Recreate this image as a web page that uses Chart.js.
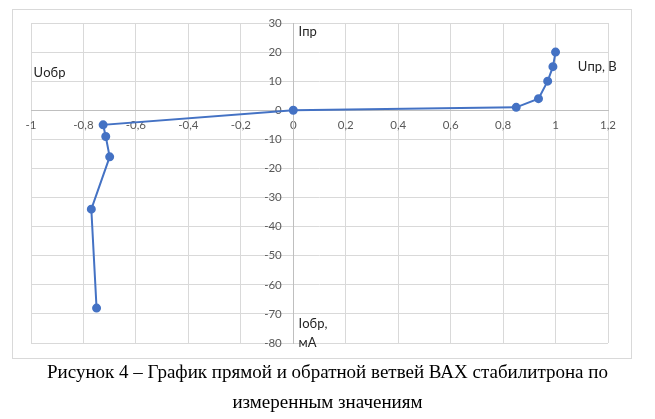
<!DOCTYPE html>
<html><head><meta charset="utf-8">
<script src="https://cdn.jsdelivr.net/npm/chart.js@4/dist/chart.umd.min.js"></script>
<style>
html,body{margin:0;padding:0;background:#fff;}
#wrap{position:relative;width:655px;height:419px;}
#frame{position:absolute;left:12px;top:9px;width:620px;height:350px;border:1px solid #d9d9d9;box-sizing:border-box;}
canvas{position:absolute;left:0;top:0;}
.cap{position:absolute;left:0;width:655px;text-align:center;font-family:"Liberation Serif","DejaVu Serif",serif;font-size:19px;line-height:22px;color:#000;}
</style></head>
<body>
<div id="wrap">
<div id="frame"></div>
<canvas id="c" width="655" height="419"></canvas>
<div class="cap" style="top:361px">Рисунок 4 – График прямой и обратной ветвей ВАХ стабилитрона по</div>
<div class="cap" style="top:391px">измеренным значениям</div>
</div>
<script>
const voltage = [-0.75, -0.77, -0.70, -0.715, -0.725, 0, 0.85, 0.935, 0.97, 0.99, 1.0];
const current = [-68, -34, -16, -9, -5, 0, 1, 4, 10, 15, 20];
const xTicks = [-1, -0.8, -0.6, -0.4, -0.2, 0, 0.2, 0.4, 0.6, 0.8, 1, 1.2];
const yTicks = [30, 20, 10, 0, -10, -20, -30, -40, -50, -60, -70, -80];
const axisLabels = [
  {text: "Iпр", x: 0.02, y: 27},
  {text: "Uобр", x: -0.99, y: 13},
  {text: "Uпр, В", x: 1.085, y: 15},
  {text: "Iобр,", x: 0.02, y: -73.5},
  {text: "мА", x: 0.02, y: -80}
];

const fmt = v => String(Math.round(v*10)/10).replace('.', ',');

const labelPlugin = {
  id: 'labels',
  afterDatasetsDraw(chart) {
    const ctx = chart.ctx, xs = chart.scales.x, ys = chart.scales.y;
    ctx.save();
    ctx.font = '13px Lato, "Open Sans", sans-serif';
    ctx.fillStyle = '#262626';
    ctx.textBaseline = 'middle';
    ctx.textAlign = 'left';
    axisLabels.forEach(l => ctx.fillText(l.text, xs.getPixelForValue(l.x), ys.getPixelForValue(l.y)));
    ctx.restore();
  }
};

new Chart(document.getElementById('c'), {
  type: 'scatter',
  data: {
    datasets: [{
      data: voltage.map((v, i) => ({x: v, y: current[i]})),
      showLine: true,
      borderColor: '#4472C4',
      backgroundColor: '#4472C4',
      borderWidth: 2,
      pointRadius: 3.5,
      pointHoverRadius: 3.5,
      tension: 0
    }]
  },
  options: {
    responsive: false,
    animation: false,
    layout: {padding: {left: 31, right: 47, top: 23, bottom: 76}},
    plugins: {legend: {display: false}, tooltip: {enabled: false}},
    scales: {
      x: {
        type: 'linear',
        position: {y: 0},
        min: -1, max: 1.2,
        afterBuildTicks: s => { s.ticks = xTicks.map(v => ({value: v})); },
        ticks: {callback: fmt, color: '#595959', font: {family: 'Lato, "Open Sans", sans-serif', size: 11.5}, padding: 8, maxRotation: 0, autoSkip: false},
        grid: {color: '#d9d9d9', lineWidth: 1, drawTicks: false},
        border: {color: '#bfbfbf', width: 1}
      },
      y: {
        type: 'linear',
        position: {x: 0},
        min: -80, max: 30,
        afterBuildTicks: s => { s.ticks = yTicks.map(v => ({value: v})); },
        ticks: {callback: v => String(v) + '\u2002\u2002', color: '#595959', font: {family: 'Lato, "Open Sans", sans-serif', size: 11.5}, padding: 10, autoSkip: false},
        grid: {color: '#d9d9d9', lineWidth: 1, drawTicks: false},
        border: {color: '#bfbfbf', width: 1}
      }
    }
  },
  plugins: [labelPlugin]
});
</script>
</body></html>
